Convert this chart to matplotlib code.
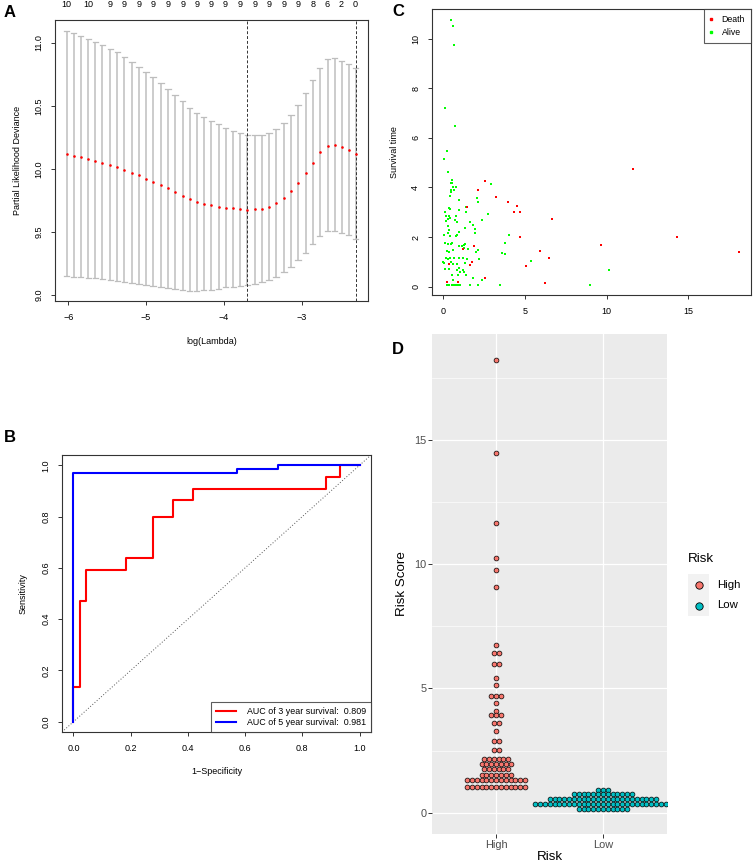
"""Four-panel survival model figure: lasso CV curve, time ROC, survival scatter, risk dotplot."""

import matplotlib

matplotlib.use("Agg")
import matplotlib.pyplot as plt
import matplotlib.transforms as mtransforms
from matplotlib.lines import Line2D
from matplotlib.patches import Rectangle

plt.rcParams["font.family"] = ["Liberation Sans", "DejaVu Sans"]

# ---- panel A: cv.glmnet curve
log_lambda = [-6.02, -5.93, -5.84, -5.74, -5.65, -5.56, -5.46, -5.37, -5.28, -5.18,
              -5.09, -5.00, -4.91, -4.81, -4.72, -4.63, -4.53, -4.44, -4.35, -4.26,
              -4.16, -4.07, -3.98, -3.88, -3.79, -3.70, -3.60, -3.51, -3.42, -3.33,
              -3.23, -3.14, -3.05, -2.95, -2.86, -2.77, -2.67, -2.58, -2.49, -2.40, -2.31]
cv_mean = [10.119, 10.106, 10.095, 10.079, 10.063, 10.048, 10.032, 10.013, 9.992, 9.971,
           9.950, 9.923, 9.899, 9.876, 9.847, 9.817, 9.788, 9.759, 9.738, 9.722,
           9.712, 9.701, 9.693, 9.688, 9.680, 9.677, 9.680, 9.685, 9.701, 9.733,
           9.770, 9.825, 9.892, 9.968, 10.050, 10.130, 10.185, 10.193, 10.172, 10.148, 10.119]
cv_up = [11.093, 11.077, 11.056, 11.032, 11.008, 10.981, 10.952, 10.923, 10.888, 10.851,
         10.809, 10.769, 10.729, 10.681, 10.633, 10.585, 10.537, 10.481, 10.441, 10.410,
         10.378, 10.354, 10.324, 10.301, 10.285, 10.271, 10.266, 10.269, 10.285, 10.314,
         10.362, 10.428, 10.508, 10.601, 10.705, 10.801, 10.872, 10.880, 10.856, 10.832, 10.801]
cv_lo = [9.152, 9.146, 9.146, 9.138, 9.133, 9.125, 9.117, 9.109, 9.104, 9.098,
         9.090, 9.082, 9.074, 9.066, 9.056, 9.048, 9.040, 9.035, 9.035, 9.037,
         9.043, 9.051, 9.061, 9.066, 9.074, 9.082, 9.090, 9.101, 9.120, 9.144,
         9.181, 9.223, 9.274, 9.335, 9.404, 9.468, 9.508, 9.511, 9.492, 9.473, 9.444]
nzero_idx = [0, 3, 6, 8, 10, 12, 14, 16, 18, 20, 22, 24, 26, 28, 30, 32, 34, 36, 38, 40]
nzero_lab = ["10", "10", "9", "9", "9", "9", "9", "9", "9", "9",
             "9", "9", "9", "9", "9", "9", "8", "6", "2", "0"]
lambda_min = -3.70
lambda_1se = -2.31

# ---- panel B: ROC
roc3_fpr = [0, 0, 0.023, 0.023, 0.045, 0.045, 0.185, 0.185, 0.279, 0.279,
            0.349, 0.349, 0.419, 0.419, 0.884, 0.884, 0.931, 0.931, 1.0]
roc3_tpr = [0, 0.136, 0.136, 0.47, 0.47, 0.59, 0.59, 0.64, 0.64, 0.80,
            0.80, 0.864, 0.864, 0.909, 0.909, 0.955, 0.955, 1.0, 1.0]
roc5_fpr = [0, 0, 0.571, 0.571, 0.714, 0.714, 1.0]
roc5_tpr = [0, 0.969, 0.969, 0.984, 0.984, 1.0, 1.0]
auc3 = 0.809
auc5 = 0.981

# ---- panel C: risk score vs survival time
death_x = [2.52, 2.09, 3.20, 3.93, 4.51, 1.43, 4.34, 4.71, 6.66, 4.71, 14.34, 11.6, 9.67,
           1.86, 5.94, 18.09, 6.48, 1.23, 1.76, 1.60, 5.06, 0.33, 0.23, 0.88, 2.54, 6.23]
death_y = [4.28, 3.91, 3.60, 3.43, 3.27, 3.23, 3.00, 3.00, 2.71, 1.99, 1.99, 4.75, 1.66,
           1.63, 1.43, 1.40, 1.16, 1.52, 1.01, 0.86, 0.82, 0.92, 0.18, 0.20, 0.34, 0.16]
alive_x = [0.45, 0.60, 0.64, 0.10, 0.68, 0.23, 0.02, 0.31, 0.51, 0.47, 0.55, 0.59, 0.80,
           0.45, 0.66, 0.49, 0.43, 0.94, 2.89, 2.05, 2.09, 1.41, 0.35, 0.41, 0.98, 0.10,
           1.39, 2.75, 0.14, 0.37, 0.78, 0.31, 0.39, 0.18, 0.70, 2.38, 0.86, 1.64, 1.80,
           0.27, 1.33, 1.93, 0.33, 0.94, 1.91, 0.27, 0.06, 0.41, 0.78, 0.86, 4.02, 3.79,
           0.12, 0.27, 0.45, 0.55, 0.94, 1.13, 1.27, 1.35, 2.09, 0.23, 0.37, 0.61, 1.29,
           1.48, 1.97, 3.57, 3.75, 0.16, 0.27, 0.39, 0.66, 0.94, 1.17, 1.43, 2.17, 5.35,
           0.00, 0.06, 0.47, 0.59, 0.82, 1.35, 0.12, 0.35, 0.98, 0.82, 1.17, 0.55, 0.88,
           1.02, 1.27, 1.39, 0.57, 1.80, 10.16, 2.38, 0.20, 0.35, 0.50, 0.63, 0.78, 0.90,
           1.00, 1.60, 2.13, 3.48, 8.98]
alive_y = [10.75, 10.50, 9.74, 7.20, 6.49, 5.48, 5.14, 4.63, 4.31, 4.16, 4.16, 4.00, 4.00,
           3.91, 3.88, 3.81, 3.66, 3.50, 4.12, 3.58, 3.41, 3.21, 3.17, 3.12, 3.07, 2.99,
           2.99, 2.91, 2.86, 2.84, 2.83, 2.72, 2.75, 2.63, 2.67, 2.67, 2.59, 2.59, 2.49,
           2.46, 2.38, 2.33, 2.29, 2.20, 2.15, 2.18, 2.09, 2.06, 2.05, 2.09, 2.09, 1.75,
           1.74, 1.72, 1.72, 1.74, 1.64, 1.62, 1.67, 1.72, 1.48, 1.45, 1.41, 1.49, 1.54,
           1.52, 1.40, 1.35, 1.31, 1.17, 1.13, 1.17, 1.16, 1.16, 1.14, 1.13, 1.13, 1.05,
           0.98, 0.96, 0.98, 0.90, 0.92, 0.94, 0.70, 0.70, 0.75, 0.67, 0.67, 0.48, 0.48,
           0.57, 0.57, 0.48, 0.28, 0.36, 0.66, 0.28, 0.07, 0.07, 0.07, 0.07, 0.07, 0.07,
           0.07, 0.07, 0.07, 0.07, 0.07]

# ---- panel D: dotplot of risk score by group (bin centre, dots in bin)
high_levels = [18.22, 14.49, 11.68, 10.25, 9.77, 9.10, 6.75, 6.44, 5.99, 5.44, 5.14, 4.70,
               4.42, 4.11, 3.92, 3.62, 3.28, 2.89, 2.52, 2.17, 1.96, 1.75, 1.53, 1.33, 1.02]
high_counts = [1, 1, 1, 1, 1, 1, 1, 2, 2, 1, 1, 3, 1, 1, 3, 2, 1, 2, 2, 6, 7, 6, 7, 13, 13]
low_levels = [0.91, 0.77, 0.56, 0.35, 0.16]
low_counts = [3, 13, 23, 29, 11]
groups = ["High", "Low"]
group_colors = ["#F8766D", "#00BFC4"]

W, H = 753, 867
fig = plt.figure(figsize=(W / 100, H / 100), dpi=100)


def px_axes(left, top, right, bottom):
    return fig.add_axes([left / W, 1 - bottom / H, (right - left) / W, (bottom - top) / H])


def r_style(ax):
    for s in ax.spines.values():
        s.set_color("#333333")
        s.set_linewidth(0.8)
    ax.tick_params(direction="out", length=3, width=0.7, color="#333333",
                   labelsize=6.5, pad=5.5)
    ax.tick_params(axis="y", labelrotation=90)
    for lab in ax.get_yticklabels():
        lab.set_va("center")


def panel_a():
    ax = px_axes(55, 20, 368, 301)
    ax.vlines(log_lambda, cv_lo, cv_up, color="#C4C4C4", lw=1.2)
    cap = 0.035
    for x, lo, up in zip(log_lambda, cv_lo, cv_up):
        ax.plot([x - cap, x + cap], [up, up], color="#BDBDBD", lw=0.9)
        ax.plot([x - cap, x + cap], [lo, lo], color="#BDBDBD", lw=0.9)
    ax.scatter(log_lambda, cv_mean, s=3.5, color="red", linewidths=0, zorder=3)
    for v in (lambda_min, lambda_1se):
        ax.axvline(v, color="#333333", lw=0.7, ls=(0, (3, 2)))
    ax.set_xlim(-6.17, -2.15)
    ax.set_ylim(8.953, 11.18)
    ax.set_xticks([-6, -5, -4, -3], ["\u22126", "\u22125", "\u22124", "\u22123"])
    ax.set_yticks([9.0, 9.5, 10.0, 10.5, 11.0])
    r_style(ax)
    trans = mtransforms.blended_transform_factory(ax.transData, ax.transAxes)
    for i, lab in zip(nzero_idx, nzero_lab):
        ax.text(log_lambda[i], 1.055, lab, transform=trans, ha="center", va="center",
                fontsize=6.5)
    ax.set_xlabel("log(Lambda)", fontsize=6.5)
    ax.xaxis.set_label_coords(0.5, -0.127)
    ax.set_ylabel("Partial Likelihood Deviance", fontsize=6.5)
    ax.yaxis.set_label_coords(-0.106, 0.5)


def panel_b():
    ax = px_axes(62, 455, 371, 732)
    ax.axline((0, 0), slope=1, color="#555555", lw=0.7, ls=(0, (1, 2)))
    ax.plot(roc3_fpr, roc3_tpr, color="#FF0000", lw=1.5)
    ax.plot(roc5_fpr, roc5_tpr, color="#0000FF", lw=1.5)
    ax.set_xlim(-0.04, 1.04)
    ax.set_ylim(-0.04, 1.04)
    ticks = [0.0, 0.2, 0.4, 0.6, 0.8, 1.0]
    ax.set_xticks(ticks, [f"{t:.1f}" for t in ticks])
    ax.set_yticks(ticks, [f"{t:.1f}" for t in ticks])
    r_style(ax)
    handles = [Line2D([], [], color="#FF0000", lw=1.5),
               Line2D([], [], color="#0000FF", lw=1.5)]
    labels = [f"AUC of 3 year survival:  {auc3:.3f}", f"AUC of 5 year survival:  {auc5:.3f}"]
    leg = ax.legend(handles, labels, loc="lower right", borderaxespad=0, fancybox=False,
                    edgecolor="#333333", fontsize=6.4, handlelength=2.2,
                    borderpad=0.6, labelspacing=0.2, handletextpad=1.2)
    leg.get_frame().set_linewidth(0.8)
    ax.set_xlabel("1\u2212Specificity", fontsize=6.5)
    ax.xaxis.set_label_coords(0.5, -0.125)
    ax.set_ylabel("Sensitivity", fontsize=6.5)
    ax.yaxis.set_label_coords(-0.112, 0.5)


def panel_c():
    ax = px_axes(432, 9, 751, 295)
    ax.scatter(alive_x, alive_y, s=2.5, marker="s", color="#00FF00", linewidths=0)
    ax.scatter(death_x, death_y, s=2.5, marker="s", color="#FF0000", linewidths=0)
    ax.set_xlim(-0.7, 18.85)
    ax.set_ylim(-0.34, 11.2)
    ax.set_xticks([0, 5, 10, 15])
    ax.set_yticks([0, 2, 4, 6, 8, 10])
    r_style(ax)
    handles = [Line2D([], [], ls="", marker="s", ms=1.6, color="#FF0000"),
               Line2D([], [], ls="", marker="s", ms=1.6, color="#00FF00")]
    leg = ax.legend(handles, ["Death", "Alive"], loc="upper right", borderaxespad=0,
                    fancybox=False, edgecolor="#333333", fontsize=6.3, handlelength=0.3,
                    borderpad=0.7, labelspacing=0.45, handletextpad=1.0)
    leg.get_frame().set_linewidth(0.8)
    ax.set_ylabel("Survival time", fontsize=6.5)
    ax.yaxis.set_label_coords(-0.103, 0.5)


DOT_STEP = 0.0452


def stack(center, levels, counts):
    xs, ys = [], []
    for v, n in zip(levels, counts):
        for k in range(n):
            xs.append(center + (k - (n - 1) / 2) * DOT_STEP)
            ys.append(v)
    return xs, ys


def panel_d():
    ax = px_axes(432, 334, 667, 834)
    ax.set_facecolor("#EBEBEB")
    for s in ax.spines.values():
        s.set_visible(False)
    ax.set_xlim(0.4, 2.6)
    ax.set_ylim(-0.86, 19.27)
    ax.set_xticks([1, 2], groups)
    ax.set_yticks([0, 5, 10, 15])
    ax.set_yticks([2.5, 7.5, 12.5, 17.5], minor=True)
    ax.tick_params(axis="y", which="minor", length=0)
    ax.grid(True, which="major", color="white", lw=0.9)
    ax.grid(True, which="minor", axis="y", color="white", lw=0.45)
    ax.set_axisbelow(True)
    ax.tick_params(which="major", length=2.6, width=0.7, color="#333333",
                   labelcolor="#4D4D4D", labelsize=7.9, pad=1.5)
    for c, (levels, counts), col in zip([1, 2], [(high_levels, high_counts),
                                                 (low_levels, low_counts)], group_colors):
        xs, ys = stack(c, levels, counts)
        ax.scatter(xs, ys, s=12, color=col, edgecolors="black", linewidths=0.5, zorder=3)
    ax.set_xlabel("Risk", fontsize=9.6, labelpad=1)
    ax.set_ylabel("Risk Score", fontsize=9.6)
    ax.yaxis.set_label_coords(-0.102, 0.5)

    # ggplot-style legend on the right
    lax = px_axes(680, 540, 753, 625)
    lax.set_xlim(680, 753)
    lax.set_ylim(625, 540)
    lax.axis("off")
    lax.text(688, 559, "Risk", fontsize=9.6, va="center", ha="left")
    for k, (g, col) in enumerate(zip(groups, group_colors)):
        top = 574 + 21 * k
        lax.add_patch(Rectangle((688, top), 21, 21, color="#F2F2F2", lw=0))
        lax.scatter([698.5], [top + 10.5], s=28, color=col, edgecolors="black",
                    linewidths=0.6, zorder=3)
        lax.text(717, top + 10.5, g, fontsize=8.2, va="center", ha="left")


def main():
    panel_a()
    panel_b()
    panel_c()
    panel_d()
    for lab, x, y in [("A", 4, 12.5), ("B", 4, 437), ("C", 392, 12), ("D", 392, 350)]:
        fig.text(x / W, 1 - y / H, lab, fontsize=12, fontweight="bold", va="center",
                 ha="left")
    fig.savefig("out.png", dpi=100)


if __name__ == "__main__":
    main()
